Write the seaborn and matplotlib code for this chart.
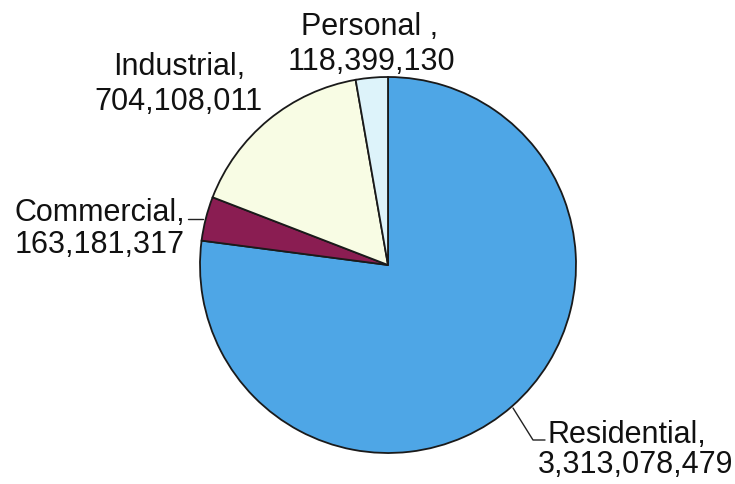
import matplotlib
matplotlib.use("Agg")
import matplotlib.pyplot as plt
import seaborn as sns

categories = ["Residential", "Commercial", "Industrial", "Personal"]
values = [3313078479, 163181317, 704108011, 118399130]
colors = ["#4ea6e6", "#8a1d52", "#f8fce4", "#ddf3fa"]
label_sep = [",", ",", ",", " ,"]

sns.set_theme(style="white")
plt.rcParams['font.family'] = ['Liberation Sans', 'DejaVu Sans']

W, H = 735, 484
fig = plt.figure(figsize=(W / 100, H / 100), dpi=100)
cx, cy, r = 388, 265, 188
ax = fig.add_axes([(cx - r) / W, (H - cy - r) / H, 2 * r / W, 2 * r / H])
ax.pie(values, colors=colors, startangle=90, counterclock=False, radius=1.0,
       wedgeprops=dict(edgecolor="#1a1a1a", linewidth=1.3))
ax.set_xlim(-1.0, 1.0)
ax.set_ylim(-1.0, 1.0)
ax.set_aspect("equal")
ax.axis("off")


def d(px, py):
    return ((px - cx) / r, (cy - py) / r)


fs = 22
texts = [f"{c}{s}" for c, s in zip(categories, label_sep)]
nums = [f"{v:,}" for v in values]

# Residential
ax.plot(*zip(d(513, 408), d(533, 440), d(545, 440)), color="#222222", lw=1.0, clip_on=False)
ax.text(*d(547, 435), texts[0], fontsize=fs, ha="left", va="center", color="#111111")
ax.text(*d(538, 465), nums[0], fontsize=fs, ha="left", va="center", color="#111111")

# Commercial
ax.plot(*zip(d(188, 219), d(203, 219)), color="#222222", lw=1.0, clip_on=False)
ax.text(*d(15, 213), texts[1], fontsize=fs, ha="left", va="center", color="#111111")
ax.text(*d(15, 245), nums[1], fontsize=fs, ha="left", va="center", color="#111111")

# Industrial
ax.text(*d(179, 67), texts[2], fontsize=fs, ha="center", va="center", color="#111111")
ax.text(*d(178, 102), nums[2], fontsize=fs, ha="center", va="center", color="#111111")

# Personal
ax.text(*d(370, 27), texts[3], fontsize=fs, ha="center", va="center", color="#111111")
ax.text(*d(371, 62), nums[3], fontsize=fs, ha="center", va="center", color="#111111")

fig.savefig("out.png", dpi=100, facecolor="white")
